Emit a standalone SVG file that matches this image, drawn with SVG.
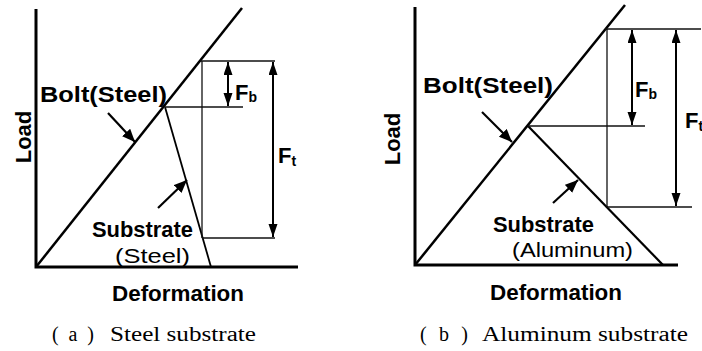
<svg xmlns="http://www.w3.org/2000/svg" width="702" height="351" viewBox="0 0 702 351">
<defs>
<marker id="ah" markerUnits="userSpaceOnUse" markerWidth="14" markerHeight="10" refX="13" refY="4.5" orient="auto-start-reverse">
<path d="M0,0 L13,4.5 L0,9 z" fill="#000"/>
</marker>
<marker id="ap" markerUnits="userSpaceOnUse" markerWidth="14" markerHeight="12" refX="13" refY="5.5" orient="auto">
<path d="M0,0 L13,5.5 L0,11 z" fill="#000"/>
</marker>
<style>
.ax{fill:none;stroke:#000;stroke-width:3}
.bolt{stroke:#000;stroke-width:2.5}
.sub{stroke:#000;stroke-width:1.8}
.guide{stroke:#111;stroke-width:1.3}
.dim{stroke:#000;stroke-width:2;marker-start:url(#ah);marker-end:url(#ah)}
.ptr{stroke:#000;stroke-width:2.2;marker-end:url(#ap)}
.lb{font-family:"Liberation Sans",Arial,sans-serif;font-weight:bold;font-size:22px;fill:#000}
.lr{font-family:"Liberation Sans",Arial,sans-serif;font-size:21px;fill:#000}
.sb{font-family:"Liberation Sans",Arial,sans-serif;font-weight:bold;font-size:14px;fill:#000}
.cap{font-family:"Liberation Serif","Times New Roman",serif;font-size:20px;fill:#000}
</style>
</defs>

<g id="panel-a">
  <g id="axes-a"><path class="ax" d="M36,9 V267 H298"/></g>
  <g id="connectors-a">
    <line class="bolt" x1="36" y1="267" x2="242" y2="8"/>
    <line class="sub" x1="165" y1="107" x2="211" y2="267"/>
    <line class="guide" x1="200" y1="61" x2="275" y2="61"/>
    <line class="guide" x1="202" y1="61" x2="202" y2="238"/>
    <line class="guide" x1="202" y1="238" x2="275" y2="238"/>
    <line class="guide" x1="165" y1="107" x2="243" y2="107"/>
    <line class="dim" x1="228" y1="62" x2="228" y2="106"/>
    <line class="dim" x1="273" y1="62" x2="273" y2="237"/>
    <line class="ptr" x1="108" y1="113" x2="135" y2="142"/>
    <line class="ptr" x1="158" y1="208" x2="187" y2="180"/>
  </g>
  <g id="labels-a">
    <text class="lb" transform="translate(31,137) rotate(-90)" text-anchor="middle">Load</text>
    <text class="lb" x="40" y="102" textLength="127" lengthAdjust="spacingAndGlyphs">Bolt(Steel)</text>
    <text class="lb" x="92" y="237" textLength="101" lengthAdjust="spacingAndGlyphs">Substrate</text>
    <text class="lr" x="115" y="263" textLength="75" lengthAdjust="spacingAndGlyphs">(Steel)</text>
    <text class="lb" x="235" y="100">F<tspan class="sb" dy="2">b</tspan></text>
    <text class="lb" x="278" y="163">F<tspan class="sb" dy="3">t</tspan></text>
    <text class="lb" x="112" y="301" textLength="132" lengthAdjust="spacingAndGlyphs">Deformation</text>
    <text class="cap" x="52" y="341" textLength="42" lengthAdjust="spacing">( a )</text>
    <text class="cap" x="110" y="341" textLength="146" lengthAdjust="spacingAndGlyphs">Steel substrate</text>
  </g>
</g>

<g id="panel-b">
  <g id="axes-b"><path class="ax" d="M415,7 V265 H678"/></g>
  <g id="connectors-b">
    <line class="bolt" x1="415" y1="265" x2="625" y2="5"/>
    <line class="sub" x1="528" y1="126" x2="663" y2="265" style="stroke-width:2.2"/>
    <line class="guide" x1="605" y1="29" x2="701" y2="29"/>
    <line class="guide" x1="607" y1="29" x2="607" y2="207"/>
    <line class="guide" x1="607" y1="207" x2="692" y2="207"/>
    <line class="guide" x1="528" y1="126" x2="645" y2="126"/>
    <line class="dim" x1="632" y1="30" x2="632" y2="125"/>
    <line class="dim" x1="676" y1="30" x2="676" y2="206"/>
    <line class="ptr" x1="482" y1="112" x2="512" y2="142"/>
    <line class="ptr" x1="553" y1="203" x2="578" y2="180"/>
  </g>
  <g id="labels-b">
    <text class="lb" transform="translate(400,139) rotate(-90)" text-anchor="middle">Load</text>
    <text class="lb" x="423" y="93" textLength="130" lengthAdjust="spacingAndGlyphs">Bolt(Steel)</text>
    <text class="lb" x="493" y="232" textLength="101" lengthAdjust="spacingAndGlyphs">Substrate</text>
    <text class="lr" x="512" y="257" textLength="121" lengthAdjust="spacingAndGlyphs">(Aluminum)</text>
    <text class="lb" x="635" y="97">F<tspan class="sb" dy="2">b</tspan></text>
    <text class="lb" x="685" y="128">F<tspan class="sb" dy="3">t</tspan></text>
    <text class="lb" x="490" y="300" textLength="132" lengthAdjust="spacingAndGlyphs">Deformation</text>
    <text class="cap" x="420" y="341" textLength="48" lengthAdjust="spacing">( b )</text>
    <text class="cap" x="482" y="341" textLength="206" lengthAdjust="spacingAndGlyphs">Aluminum substrate</text>
  </g>
</g>
</svg>
